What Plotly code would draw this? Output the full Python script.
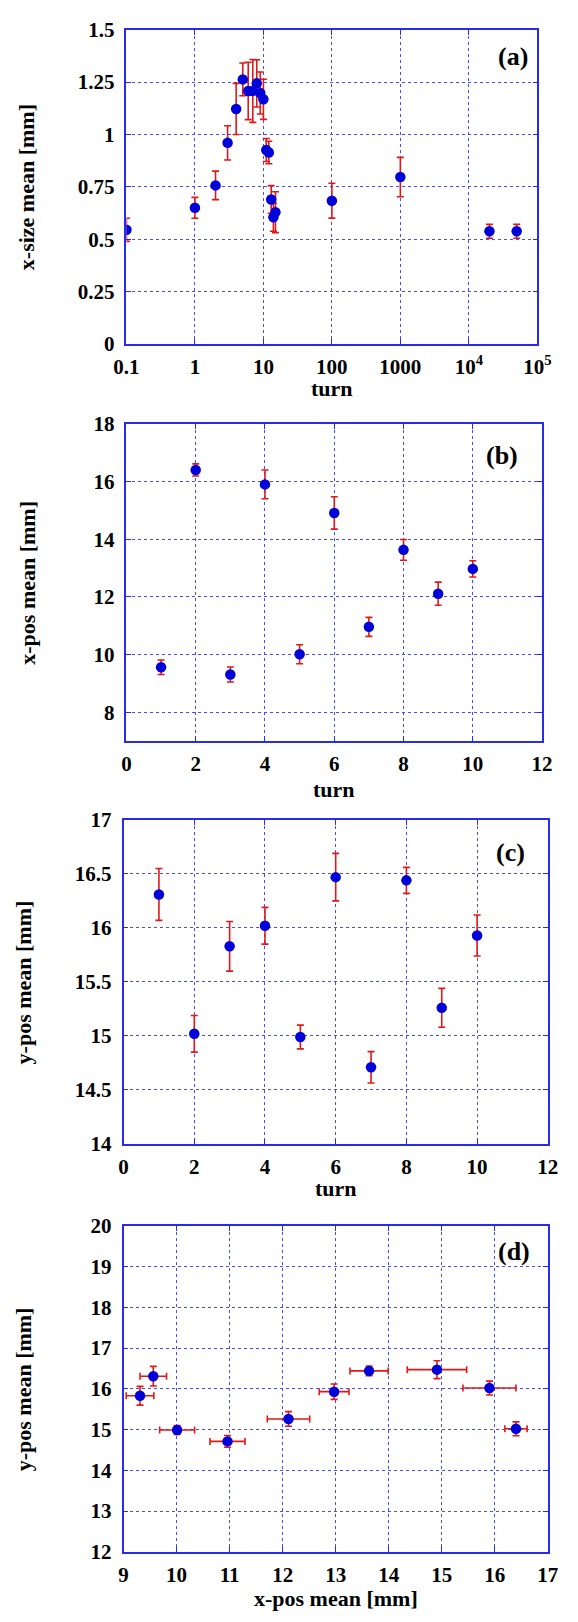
import plotly.graph_objects as go

W, H = 578, 1622

# ---------------- data ----------------
# panel (a): x-size mean vs turn (log x)
a_turn = [0.1, 1, 2, 3, 4, 5, 6, 7, 8, 9, 10, 11, 12, 13, 14, 15, 100, 1000, 20000, 50000]
a_xsize = [0.545, 0.650, 0.757, 0.960, 1.122, 1.263, 1.208, 1.208, 1.244, 1.198, 1.168,
           0.926, 0.914, 0.690, 0.605, 0.629, 0.684, 0.797, 0.538, 0.538]
a_err = [0.055, 0.050, 0.068, 0.082, 0.122, 0.078, 0.137, 0.150, 0.113, 0.100, 0.096,
         0.055, 0.054, 0.066, 0.067, 0.098, 0.083, 0.094, 0.033, 0.033]

# panels (b), (c): turns 1..10
bc_turn = [1, 2, 3, 4, 5, 6, 7, 8, 9, 10]
b_xpos = [9.56, 16.40, 9.31, 15.90, 10.01, 14.91, 10.96, 13.63, 12.11, 12.97]
b_err = [0.25, 0.21, 0.26, 0.50, 0.33, 0.56, 0.33, 0.36, 0.40, 0.28]
c_ypos = [16.31, 15.02, 15.83, 16.02, 14.99, 16.47, 14.71, 16.44, 15.26, 15.93]
c_err = [0.24, 0.17, 0.23, 0.17, 0.11, 0.22, 0.145, 0.12, 0.18, 0.19]

# tick labels
a_xticks = [0.1, 1, 10, 100, 1000, 1e4, 1e5]
a_xticktext = ["0.1", "1", "10", "100", "1000", "10<sup>4</sup>", "10<sup>5</sup>"]
a_yticks = [0, 0.25, 0.5, 0.75, 1, 1.25, 1.5]
a_yticktext = ["0", "0.25", "0.5", "0.75", "1", "1.25", "1.5"]
b_yticks = [8, 10, 12, 14, 16, 18]
turn_ticks = [0, 2, 4, 6, 8, 10, 12]
c_yticks = [14, 14.5, 15, 15.5, 16, 16.5, 17]
c_yticktext = ["14", "14.5", "15", "15.5", "16", "16.5", "17"]
d_xticks = [9, 10, 11, 12, 13, 14, 15, 16, 17]
d_yticks = [12, 13, 14, 15, 16, 17, 18, 19, 20]

# ---------------- style ----------------
FONT = "Liberation Serif"
MARK = "#0000d8"
ERR = "#e01818"
AXC = "#2a2aee"
GRID = "#4a4aff"


def px(x):
    return x / W


def py(y):
    return 1 - y / H


panels = {
    # name: (left, right, top, bottom) in pixels
    "a": (119, 550, 18, 337),
    "b": (119, 555, 418, 740),
    "c": (116, 561, 820, 1149),
    "d": (116, 561, 1232, 1563),
}

fig = go.Figure()

errstyle = dict(type="data", color=ERR, thickness=1.6, width=3.5, visible=True)
mk = dict(color=MARK, size=10.5, line=dict(width=0))

fig.add_trace(go.Scatter(x=a_turn, y=a_xsize, mode="markers", marker=mk,
                         error_y=dict(array=a_err, **errstyle), xaxis="x", yaxis="y"))
fig.add_trace(go.Scatter(x=bc_turn, y=b_xpos, mode="markers", marker=mk,
                         error_y=dict(array=b_err, **errstyle), xaxis="x2", yaxis="y2"))
fig.add_trace(go.Scatter(x=bc_turn, y=c_ypos, mode="markers", marker=mk,
                         error_y=dict(array=c_err, **errstyle), xaxis="x3", yaxis="y3"))
fig.add_trace(go.Scatter(x=b_xpos, y=c_ypos, mode="markers", marker=mk,
                         error_x=dict(array=b_err, **errstyle),
                         error_y=dict(array=c_err, **errstyle), xaxis="x4", yaxis="y4"))

tickfont = dict(family=FONT, size=21, color="black", weight="bold")


def axis_common():
    return dict(showline=True, linecolor=AXC, linewidth=1.6, mirror="ticks",
                ticks="inside", ticklen=5, tickcolor=AXC, tickwidth=1,
                showgrid=True, gridcolor=GRID, gridwidth=1, griddash="dot",
                zeroline=False, tickfont=tickfont)


layout = dict(width=W, height=H, margin=dict(l=0, r=0, t=0, b=0),
              paper_bgcolor="white", plot_bgcolor="white", showlegend=False)

axes_spec = {
    "a": (dict(type="log", range=[-1, 5], tickvals=a_xticks, ticktext=a_xticktext),
          dict(range=[0, 1.5], tickvals=a_yticks, ticktext=a_yticktext)),
    "b": (dict(range=[0, 12], tickvals=turn_ticks),
          dict(range=[7, 18], tickvals=b_yticks)),
    "c": (dict(range=[0, 12], tickvals=turn_ticks),
          dict(range=[14, 17], tickvals=c_yticks, ticktext=c_yticktext)),
    "d": (dict(range=[9, 17], tickvals=d_xticks),
          dict(range=[12, 20], tickvals=d_yticks)),
}

for i, key in enumerate(["a", "b", "c", "d"]):
    l, r, t, b = panels[key]
    xs, ys = axes_spec[key]
    n = "" if i == 0 else str(i + 1)
    xa = axis_common()
    xa.update(xs)
    xa.update(domain=[px(l), px(r)], anchor="y" + n, ticklabelstandoff=3)
    ya = axis_common()
    ya.update(ys)
    ya.update(domain=[py(b), py(t)], anchor="x" + n, ticklabelstandoff=6)
    layout["xaxis" + n] = xa
    layout["yaxis" + n] = ya

titlefont = dict(family=FONT, size=22, color="black", weight="bold")
labfont = dict(family=FONT, size=26, color="black", weight="bold")

ann = []


def add_text(text, x, y, font, angle=0):
    ann.append(dict(text=text, x=px(x), y=py(y), xref="paper", yref="paper",
                    xanchor="center", yanchor="middle", showarrow=False,
                    font=font, textangle=angle))


# axis titles
add_text("x-size mean [mm]", 15, 177.5, titlefont, -90)
add_text("turn", 334.5, 382, titlefont)
add_text("x-pos mean [mm]", 15, 579, titlefont, -90)
add_text("turn", 337, 789, titlefont)
add_text("y-pos mean [mm]", 11, 984.5, titlefont, -90)
add_text("turn", 338.5, 1194, titlefont)
add_text("y-pos mean [mm]", 11, 1397.5, titlefont, -90)
add_text("x-pos mean [mm]", 338.5, 1610, titlefont)

# panel labels
add_text("(a)", 524, 45, labfont)
add_text("(b)", 513, 450, labfont)
add_text("(c)", 522, 853, labfont)
add_text("(d)", 526, 1258, labfont)

layout["annotations"] = ann
fig.update_layout(**layout)

fig.write_html("out.html")
